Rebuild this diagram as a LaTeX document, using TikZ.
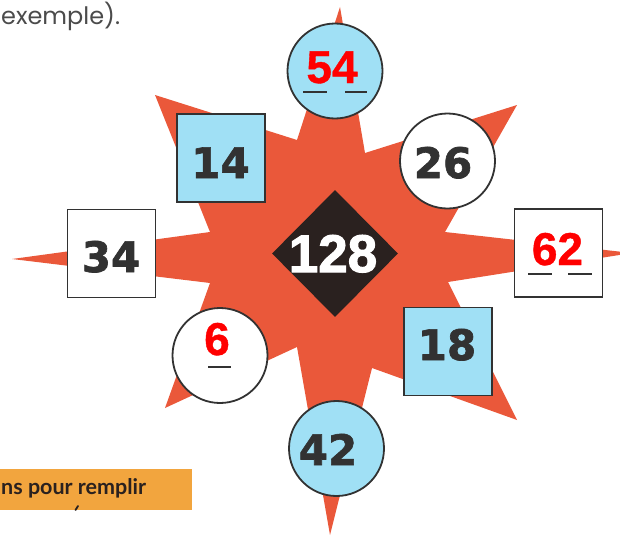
\documentclass[tikz,border=0pt]{standalone}
\usepackage{fontspec}
\usetikzlibrary{shapes.geometric}
\newfontfamily\numfont{DejaVu Sans}[BoldFeatures={FakeBold=1.6}]
\newfontfamily\ansfont{Liberation Sans}[BoldFeatures={FakeBold=0.8}]
\newfontfamily\heavyfont{Liberation Sans}[BoldFeatures={FakeBold=2}]
\newfontfamily\bookfont{Poppins}
\newfontfamily\barfont{Lato}
\definecolor{burst}{RGB}{234,88,58}
\definecolor{sky}{RGB}{160,224,245}
\definecolor{ink}{RGB}{50,50,50}
\definecolor{diamondfill}{RGB}{42,33,31}
\definecolor{barfill}{RGB}{242,165,62}
\definecolor{answer}{RGB}{255,0,0}
\definecolor{prose}{RGB}{75,75,75}
\begin{document}
\begin{tikzpicture}[x=1pt,y=-1pt,
  shapeline/.style={draw=ink, line width=1.8pt},
  roundel/.style={shapeline, circle, minimum size=95pt, inner sep=0pt},
  tile/.style={shapeline, rectangle, minimum size=88pt, inner sep=0pt},
  given/.style={inner sep=0pt, anchor=base, text=ink,
    font=\numfont\bfseries\fontsize{42}{42}\selectfont},
  answered/.style={inner sep=0pt, anchor=base, text=answer,
    font=\ansfont\bfseries\fontsize{46}{46}\selectfont},
  blank/.style={draw=ink, line width=2.2pt},
]
\useasboundingbox (0,0) rectangle (620,535);

% eight-pointed burst behind the numbers
\fill[burst] (340,7) -- (365,153) -- (517,105) -- (445,232) -- (632,253)
  -- (448,282) -- (517,420) -- (372,368) -- (330,535) -- (297,347)
  -- (165,408) -- (210,283) -- (12,259) -- (210,232) -- (155,95)
  -- (297,140) -- cycle;

% centre diamond
\node[diamond, fill=diamondfill, minimum width=126pt, minimum height=127pt,
  inner sep=0pt] (centre) at (335,253.5) {};
\node[inner sep=0pt, anchor=base, text=white,
  font=\heavyfont\bfseries\fontsize{53}{53}\selectfont] (t128) at (333,272) {128};

% circles
\node[roundel, fill=sky]   (c54) at (335,71) {};
\node[roundel, fill=white] (c26) at (447.5,161) {};
\node[roundel, fill=white] (c6)  at (220,355.5) {};
\node[roundel, fill=sky]   (c42) at (336.5,448.5) {};

% squares
\node[tile, fill=sky]   (s14) at (221,158) {};
\node[tile, fill=white] (s34) at (111.5,253.5) {};
\node[tile, fill=white] (s62) at (558.5,253) {};
\node[tile, fill=sky]   (s18) at (448,351.5) {};

% printed numbers
\node[given] (t14) at (220.5,178) {14};
\node[given] (t26) at (443,178) {26};
\node[given] (t34) at (111,272) {34};
\node[given] (t18) at (447,360) {18};
\node[given] (t42) at (328,465) {42};

% written answers with their blanks
\node[answered] (t54) at (332,83) {54};
\draw[blank] (303,92) -- (327,92);
\draw[blank] (345,92) -- (367,92);
\node[answered] (t62) at (557.5,265) {62};
\draw[blank] (528,274) -- (552,274);
\draw[blank] (568,274) -- (592,274);
\node[answered] (t6) at (217,355) {6};
\draw[blank] (208,367) -- (231,367);

% surrounding text
\node[inner sep=0pt, anchor=base west, text=prose,
  font=\bookfont\fontsize{24}{24}\selectfont] (top) at (1,25) {exemple).};
\node[fill=barfill, minimum width=192pt, minimum height=41pt, inner sep=0pt,
  anchor=north west] (bar) at (0,469) {};
\node[inner sep=0pt, anchor=base west, text=diamondfill,
  font=\barfont\bfseries\fontsize{21.5}{21.5}\selectfont] (bartext) at (1,494) {ns pour remplir};
\draw[diamondfill, line width=1.8pt, line cap=round] (75.5,510) -- (78,506);
\end{tikzpicture}
\end{document}
